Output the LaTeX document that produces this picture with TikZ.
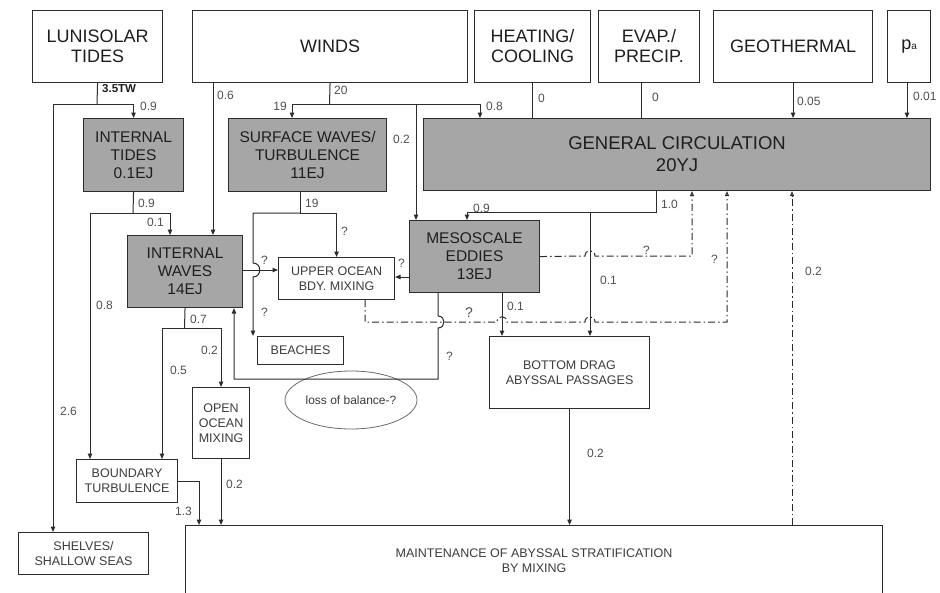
\documentclass[tikz,border=0pt]{standalone}
\usepackage{fontspec}
\setmainfont{Liberation Sans}
\usetikzlibrary{arrows.meta,shapes.geometric}
\definecolor{linec}{HTML}{2C2C2C}
\definecolor{boxgray}{HTML}{A6A6A6}
\definecolor{txt}{HTML}{1E1E1E}
\definecolor{txtb}{HTML}{3C3C3C}
\definecolor{lblc}{HTML}{505050}
\tikzset{
  box/.style={draw=linec, line width=1.1pt, inner sep=0pt, align=center, anchor=north west, text=txt},
  big/.style={box, font=\fontsize{18}{20}\selectfont},
  shade/.style={box, fill=boxgray, font=\fontsize{15.5}{18}\selectfont},
  smallbox/.style={box, font=\fontsize{12.5}{15}\selectfont, text=txtb},
  lbl/.style={font=\fontsize{12}{14}\selectfont, text=lblc, inner sep=0pt},
  conn/.style={draw=linec, line width=1pt},
  arr/.style={conn, -{Triangle[length=5.5pt,width=4.5pt]}},
  dd/.style={conn, dash pattern=on 7pt off 3pt on 1.5pt off 3pt},
  oarr/.style={dd, -{Triangle[open,length=5pt,width=4pt]}}
}
\begin{document}
\begin{tikzpicture}[x=1pt,y=-1pt]
\clip (0,0) rectangle (940,592);
\fill[white] (0,0) rectangle (940,592);
% source boxes
\node[big, minimum width=130pt, minimum height=72pt] (lun) at (32,10) {LUNISOLAR\\TIDES};
\node[big, minimum width=275pt, minimum height=72pt] (winds) at (192,10) {WINDS};
\node[big, minimum width=116pt, minimum height=72pt] (heat) at (474,10) {HEATING/\\COOLING};
\node[big, minimum width=101pt, minimum height=72pt] (evap) at (598,10) {EVAP./\\PRECIP.};
\node[big, minimum width=159pt, minimum height=72pt] (geo) at (713,10) {GEOTHERMAL};
\node[big, minimum width=43pt, minimum height=72pt] (pa) at (887,10) {p{\fontsize{10}{10}\selectfont a}};
% reservoirs
\node[shade, minimum width=507pt, minimum height=72pt, font=\fontsize{18.5}{22}\selectfont] (gc) at (423,118) {GENERAL CIRCULATION\\20YJ};
\node[shade, minimum width=100pt, minimum height=73pt] (itides) at (83,118) {INTERNAL\\TIDES\\0.1EJ};
\node[shade, minimum width=158pt, minimum height=73pt] (surf) at (228,118) {SURFACE WAVES/\\TURBULENCE\\11EJ};
\node[shade, minimum width=130pt, minimum height=72pt] (meso) at (409,220) {MESOSCALE\\EDDIES\\13EJ};
\node[shade, minimum width=115pt, minimum height=72pt] (iwaves) at (127,235) {INTERNAL\\WAVES\\14EJ};
% sinks
\node[smallbox, minimum width=116pt, minimum height=42pt] (upper) at (278,257) {UPPER OCEAN\\BDY. MIXING};
\node[smallbox, minimum width=86pt, minimum height=28pt] (beaches) at (257,336) {BEACHES};
\node[draw=linec!70, line width=0.8pt, ellipse, minimum width=132pt, minimum height=58pt, inner sep=0pt, text=txtb, font=\fontsize{12}{14}\selectfont] (loss) at (351,400) {loss of balance-?};
\node[smallbox, minimum width=160pt, minimum height=72pt] (bdrag) at (489,336) {BOTTOM DRAG\\ABYSSAL PASSAGES};
\node[smallbox, minimum width=57pt, minimum height=71pt] (open) at (192,387) {OPEN\\OCEAN\\MIXING};
\node[smallbox, minimum width=101pt, minimum height=43pt] (bturb) at (76,459) {BOUNDARY\\TURBULENCE};
\node[smallbox, minimum width=130pt, minimum height=42pt] (shelves) at (18,532) {SHELVES/\\SHALLOW SEAS};
\node[smallbox, minimum width=697pt, minimum height=70pt] (maint) at (185,525) {MAINTENANCE OF ABYSSAL STRATIFICATION\\BY MIXING};
% junction coordinates
\coordinate (jlun) at (97,104);
\coordinate (jit) at (133,213);
\coordinate (jw) at (329.5,104);
\coordinate (jw2) at (416,104);
\coordinate (jgc) at (656,212);
\coordinate (jgc2) at (590,212);
\coordinate (jsw) at (300,213);
\coordinate (jiw) at (184.5,328);
% lunisolar
\draw[conn] (lun.south) -- (jlun);
\draw[arr] (jlun) -| (itides.north);
\draw[arr] (jlun) -| (53,0 |- shelves.north);
\node[lbl, anchor=west, font=\bfseries\fontsize{11.5}{13}\selectfont, text=txt] at (102,89) {3.5TW};
\node[lbl, anchor=west] at (140,106) {0.9};
\node[lbl, anchor=west] at (60,411) {2.6};
% internal tides
\draw[conn] (itides.south) -- (jit);
\draw[arr] (jit) -| (170,0 |- iwaves.north);
\draw[arr] (jit) -| (90,0 |- bturb.north);
\node[lbl, anchor=west] at (138,203) {0.9};
\node[lbl, anchor=east] at (164,222) {0.1};
\node[lbl, anchor=west] at (96,305) {0.8};
% winds
\draw[arr] (213,0 |- winds.south) -- (213,0 |- iwaves.north);
\node[lbl, anchor=west] at (217,95) {0.6};
\draw[conn] (winds.south) -- (jw);
\draw[arr] (jw) -| (292,0 |- surf.north);
\draw[arr] (jw) -| (480,0 |- gc.north);
\draw[arr] (jw2) -- (416,0 |- meso.north);
\node[lbl, anchor=west] at (334,90) {20};
\node[lbl, anchor=east] at (287,106) {19};
\node[lbl, anchor=west] at (486,106) {0.8};
\node[lbl, anchor=east] at (410,139) {0.2};
% heating, evap, geothermal, pa
\draw[conn] (heat.south) -- (heat.south |- gc.north);
\draw[conn] (641,0 |- evap.south) -- (641,0 |- gc.north);
\draw[arr] (geo.south) -- (geo.south |- gc.north);
\draw[arr] (907,0 |- pa.south) -- (907,0 |- gc.north);
\node[lbl, anchor=west] at (538,98) {0};
\node[lbl, anchor=west] at (652,97) {0};
\node[lbl, anchor=west] at (797,101) {0.05};
\node[lbl, anchor=west] at (913,96) {0.01};
% general circulation outputs
\draw[arr] (656,0 |- gc.south) -- (jgc) -- (467,212) -- (467,0 |- meso.north);
\draw[arr] (jgc2) -- (590,0 |- bdrag.north);
\node[lbl, anchor=west] at (661,204) {1.0};
\node[lbl, anchor=west] at (473,208) {0.9};
\node[lbl, anchor=west] at (600,280) {0.1};
% mesoscale eddies
\draw[arr] (meso.west |- 0,277) -- (upper.east |- 0,277);
\node[lbl, anchor=west] at (398,263) {?};
\draw[oarr] (meso.east) -- (585,256) .. controls (585,249) and (595,249) .. (595,256) -- (692,256) -- (692,0 |- gc.south);
\node[lbl, anchor=west] at (643,250) {?};
\draw[arr] (502,0 |- meso.south) -- (502,0 |- bdrag.north);
\node[lbl, anchor=west] at (507,306) {0.1};
\draw[arr] (438,0 |- meso.south) -- (438,316) .. controls (446,316) and (446,328) .. (438,328) -- (438,379) -- (234,379) -- (234,0 |- iwaves.south);
\node[lbl, anchor=west] at (446,356) {?};
% upper ocean dash-dot
\draw[oarr] (365,0 |- upper.south) -- (365,322) -- (497,322) .. controls (497,315) and (507,315) .. (507,322) -- (585,322) .. controls (585,315) and (595,315) .. (595,322) -- (727,322) -- (727,0 |- gc.south);
\node[lbl, anchor=west, font=\fontsize{14}{16}\selectfont] at (465,313) {?};
\node[lbl, anchor=west] at (711,259) {?};
% surface waves
\draw[conn] (300,0 |- surf.south) -- (jsw);
\draw[arr] (jsw) -| (upper.north);
\draw[arr] (jsw) -- (253,213) -- (253,263) .. controls (262,263) and (262,277) .. (253,277) -- (253,0 |- beaches.north);
\node[lbl, anchor=west] at (305,203) {19};
\node[lbl, anchor=west] at (341,231) {?};
\node[lbl, anchor=west] at (261,260) {?};
\node[lbl, anchor=west] at (261,312) {?};
% internal waves
\draw[arr] (iwaves.east |- 0,270) -- (upper.west |- 0,270);
\draw[conn] (iwaves.south) -- (jiw);
\draw[arr] (jiw) -| (open.north);
\draw[arr] (jiw) -| (162,0 |- bturb.north);
\node[lbl, anchor=west] at (190,319) {0.7};
\node[lbl, anchor=east] at (218,350) {0.2};
\node[lbl, anchor=west] at (170,370) {0.5};
% into maintenance
\draw[arr] (open.south) -- (open.south |- maint.north);
\node[lbl, anchor=west] at (226,484) {0.2};
\draw[arr] (bturb.east) -- (199,0 |- bturb.east) -- (199,0 |- maint.north);
\node[lbl, anchor=east] at (192,511) {1.3};
\draw[arr] (bdrag.south) -- (bdrag.south |- maint.north);
\node[lbl, anchor=west] at (587,453) {0.2};
\draw[oarr] (792,0 |- maint.north) -- (792,0 |- gc.south);
\node[lbl, anchor=west] at (805,271) {0.2};
\end{tikzpicture}
\end{document}
